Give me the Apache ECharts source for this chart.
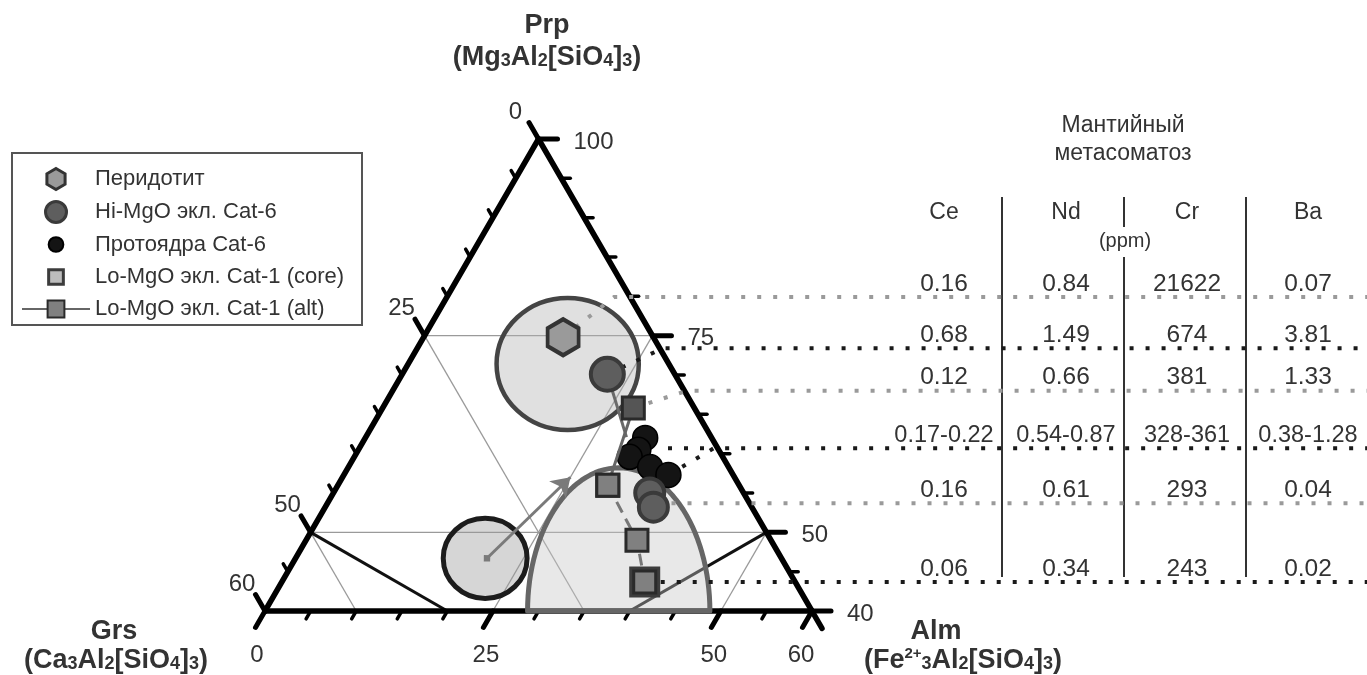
<!DOCTYPE html>
<html><head><meta charset="utf-8">
<script src="https://cdn.jsdelivr.net/npm/echarts@6/dist/echarts.min.js"></script>
<style>html,body{margin:0;padding:0;background:#fff}#c{width:1367px;height:675px}</style>
</head><body><div id="c"></div>
<script>
// ===== DATA: compositions as [Prp, Alm, Grs] (mol.%) =====
const peridotite = [[74.8, 15.3, 9.9]];
const hiMgO = [[70.1, 22.5, 7.4], [55.0, 34.7, 10.3], [53.2, 36.0, 10.8]];
const protocores = [[62.0, 30.7, 7.3], [60.5, 30.7, 8.8], [59.6, 30.2, 10.2], [58.3, 33.1, 8.6], [57.3, 35.6, 7.1]];
const loMgOCore = [[43.7, 39.8, 16.5]];
const loMgOAlt = [[65.8, 27.5, 6.7], [56.0, 29.6, 14.4], [49.0, 36.3, 14.7]];
const trendArrow = [[46.7, 21.0, 32.3], [57.0, 25.0, 18.0]];
const hiTrend = [[70.1, 22.5, 7.4], [62.1, 28.6, 9.3]];
const boundaryLines = [[[50, 0, 50], [40, 20, 40]], [[50, 50, 0], [40, 40, 20]]];
// fields: centre composition, half-axes in composition units (horizontal, Prp)
const fieldCentres = [[71.4, 17.5, 11.1], [46.7, 20.8, 32.5], [40.0, 38.8, 21.2]];
const fieldRadii = [[7.8, 8.4], [4.6, 5.1], [10.0, 18.2]];
const fieldKinds = ['full', 'full', 'upper'];
// grid / ticks
const gridPrp = [75, 50], gridAlm = [25, 50], gridGrs = [25, 50];
const grsTicks = [0, 25, 50, 60], prpTicks = [100, 75, 50, 40], almTicks = [0, 25, 50, 60];
const tickStep = 5;
// table
const tableTitle = ['Мантийный', 'метасоматоз'];
const tableCols = ['Ce', 'Nd', 'Cr', 'Ba'];
const tableUnit = '(ppm)';
const tableRows = [
  ['0.16', '0.84', '21622', '0.07'],
  ['0.68', '1.49', '674', '3.81'],
  ['0.12', '0.66', '381', '1.33'],
  ['0.17-0.22', '0.54-0.87', '328-361', '0.38-1.28'],
  ['0.16', '0.61', '293', '0.04'],
  ['0.06', '0.34', '243', '0.02']
];
const rowPrp = [79.9, 73.4, 68.0, 60.7, 53.7, 43.7];
const rowSource = [peridotite[0], hiMgO[0], loMgOAlt[0], protocores[4], hiMgO[2], loMgOCore[0]];
const names = ['Перидотит', 'Hi-MgO экл. Cat-6', 'Протоядра Cat-6', 'Lo-MgO экл. Cat-1 (core)', 'Lo-MgO экл. Cat-1 (alt)'];

// ===== LAYOUT =====
const FONT = '"Liberation Sans", Arial, sans-serif';
const GL = 265, GT = 139, GW = 547, GH = 472;
const PXU = GW / 60;
const xMax = 20 + (1367 - GL) / PXU;
const pxToX = px => 20 + (px - GL) / PXU;
const tern = t => [t[1] + t[0] / 2, t[0]];
const colPx = [944, 1066, 1187, 1308];
const sepPx = [1002, 1124, 1246];
const kneePx = [614, 663, 687, 714, 647, 660];
const rowColors = ['#9a9a9a', '#1a1a1a', '#9a9a9a', '#1a1a1a', '#9a9a9a', '#1a1a1a'];
const bottomDx = [-8, -7, -7, -11];
const fieldStyles = [
  {fill: 'rgba(178,178,178,0.4)', stroke: '#444', lineWidth: 4.5},
  {fill: 'rgba(152,152,152,0.4)', stroke: '#1c1c1c', lineWidth: 5},
  {fill: 'rgba(198,198,198,0.4)', stroke: '#666', lineWidth: 5}
];
const hexPath = 'path://M0,-1L0.866,-0.5L0.866,0.5L0,1L-0.866,0.5L-0.866,-0.5Z';

function mkLine(ch, p1, p2, style) {
  ch.push({type: 'line', shape: {x1: p1[0], y1: p1[1], x2: p2[0], y2: p2[1]}, style: style});
}

function renderGrid(params, api) {
  const C = t => api.coord(tern(t));
  const ch = [];
  const gs = {stroke: '#9a9a9a', lineWidth: 1.3};
  gridPrp.forEach(p => mkLine(ch, C([p, 0, 100 - p]), C([p, 100 - p, 0]), gs));
  gridGrs.forEach(g => mkLine(ch, C([100 - g, 0, g]), C([40, 60 - g, g]), gs));
  gridAlm.forEach(a => mkLine(ch, C([100 - a, a, 0]), C([40, a, 60 - a]), gs));
  boundaryLines.forEach(l => mkLine(ch, C(l[0]), C(l[1]), {stroke: '#111', lineWidth: 3}));
  return {type: 'group', children: ch};
}

function renderFields(params, api) {
  const i = params.dataIndex;
  const c = api.coord(tern(fieldCentres[i]));
  const rx = api.size([fieldRadii[i][0], 0])[0];
  const ry = api.size([0, fieldRadii[i][1]])[1];
  const st = fieldStyles[i];
  if (fieldKinds[i] === 'full') {
    return {type: 'ellipse', shape: {cx: c[0], cy: c[1], rx: rx, ry: ry}, style: st};
  }
  const pts = [];
  for (let k = 0; k <= 60; k++) {
    const th = Math.PI * k / 60;
    pts.push([c[0] + rx * Math.cos(th), c[1] - ry * Math.sin(th)]);
  }
  return {type: 'polygon', shape: {points: pts}, style: Object.assign({lineJoin: 'round'}, st)};
}

function renderFrame(params, api) {
  const C = t => api.coord(tern(t));
  const ch = [];
  const edge = {stroke: '#000', lineWidth: 5.5, lineCap: 'round'};
  const A = C([100, 0, 0]), L = C([40, 0, 60]), R = C([40, 60, 0]);
  mkLine(ch, A, L, edge); mkLine(ch, L, R, edge); mkLine(ch, A, R, edge);
  mkLine(ch, R, [R[0] + 0.5 * 20, R[1] + 0.866 * 20], edge);
  const tick = (pt, d, major) => {
    const len = major ? 19 : 9;
    mkLine(ch, pt, [pt[0] + d[0] * len, pt[1] + d[1] * len], {stroke: '#000', lineWidth: major ? 5 : 3.5, lineCap: 'round'});
  };
  const txt = (s, x, y, align) => ch.push({type: 'text', x: x, y: y,
    style: {text: s, fill: '#333', font: '24px ' + FONT, align: align, verticalAlign: 'middle'}});
  for (let g = 0; g <= 60; g += tickStep) tick(C([100 - g, 0, g]), [-0.5, -0.866], grsTicks.includes(g));
  for (let p = 40; p <= 100; p += tickStep) tick(C([p, 100 - p, 0]), [1, 0], prpTicks.includes(p));
  for (let a = 0; a <= 60; a += tickStep) tick(C([40, a, 60 - a]), [-0.5, 0.866], almTicks.includes(a));
  grsTicks.forEach(g => { const q = C([100 - g, 0, g]); txt(String(g), q[0] - 23, q[1] - 27, 'center'); });
  prpTicks.forEach(p => { const q = C([p, 100 - p, 0]); txt(String(p), q[0] + 35, q[1] + 3, 'left'); });
  almTicks.forEach((a, i) => { const q = C([40, a, 60 - a]); txt(String(a), q[0] + bottomDx[i], q[1] + 44, 'center'); });
  return {type: 'group', children: ch};
}

// connectors (dotted) from points to table rows
const connectors = rowPrp.map((p, i) => ({
  coords: [tern(rowSource[i]), [pxToX(kneePx[i]), p], [xMax, p]],
  lineStyle: {color: rowColors[i]}
}));
connectors.push({coords: [[pxToX(668), rowPrp[3]], [pxToX(kneePx[3]), rowPrp[3]]], lineStyle: {color: rowColors[3]}});

const tableData = [];
tableRows.forEach((row, r) => row.forEach((v, c) => {
  tableData.push({value: [pxToX(colPx[c]), rowPrp[r], v],
    label: {fontSize: v.length > 6 ? 23.5 : 24.5}});
}));

const altStyle = {color: '#808080', borderColor: '#2a2a2a', borderWidth: 3};

const sub = {fontSize: 18, fontWeight: 'bold', fontFamily: FONT, lineHeight: 24, padding: [6, 0, 0, 0], color: '#333'};
const sup = {fontSize: 15, fontWeight: 'bold', fontFamily: FONT, lineHeight: 20, padding: [0, 0, 14, 0], color: '#333'};
const big = {fontSize: 27, fontWeight: 'bold', fontFamily: FONT, lineHeight: 34, color: '#333'};
function formula(parts) { return parts.map(p => '{' + p[0] + '|' + p[1] + '}').join(''); }
function titleText(x, y, text, rich) {
  return {type: 'text', x: x, y: y, silent: true,
    style: {text: text, rich: rich, font: 'bold 27px ' + FONT, fill: '#333', align: 'center', textAlign: 'center', verticalAlign: 'middle', textVerticalAlign: 'middle'}};
}
const richT = {b: big, s: sub, u: sup};
function plain(x, y, s, size, bold) {
  return {type: 'text', x: x, y: y, silent: true,
    style: {text: s, font: (bold ? 'bold ' : '') + size + 'px ' + FONT, fill: '#333', align: 'center', textAlign: 'center', verticalAlign: 'middle', textVerticalAlign: 'middle'}};
}
const vline = (x, y1, y2) => ({type: 'line', silent: true, shape: {x1: x, y1: y1, x2: x, y2: y2}, style: {stroke: '#333', lineWidth: 2}});

const graphics = [
  {type: 'rect', silent: true, shape: {x: 12, y: 153, width: 350, height: 172}, style: {fill: 'none', stroke: '#555', lineWidth: 2}},
  titleText(547, 26, '{b|Prp}', richT),
  titleText(547, 58, formula([['b','(Mg'],['s','3'],['b','Al'],['s','2'],['b','[SiO'],['s','4'],['b',']'],['s','3'],['b',')']]), richT),
  titleText(114, 632, '{b|Grs}', richT),
  titleText(116, 661, formula([['b','(Ca'],['s','3'],['b','Al'],['s','2'],['b','[SiO'],['s','4'],['b',']'],['s','3'],['b',')']]), richT),
  titleText(936, 632, '{b|Alm}', richT),
  titleText(963, 661, formula([['b','(Fe'],['u','2+'],['s','3'],['b','Al'],['s','2'],['b','[SiO'],['s','4'],['b',']'],['s','3'],['b',')']]), richT),
  plain(1123, 126, tableTitle[0], 23),
  plain(1123, 154, tableTitle[1], 23),
  plain(colPx[0], 213, tableCols[0], 23),
  plain(colPx[1], 213, tableCols[1], 23),
  plain(colPx[2], 213, tableCols[2], 23),
  plain(colPx[3], 213, tableCols[3], 23),
  plain(1125, 241, tableUnit, 20),
  vline(sepPx[0], 197, 577),
  vline(sepPx[1], 197, 227),
  vline(sepPx[1], 257, 577),
  vline(sepPx[2], 197, 577)
];

const option = {
  animation: false,
  backgroundColor: '#fff',
  textStyle: {fontFamily: FONT},
  grid: {left: GL, top: GT, width: 1367 - GL, height: GH},
  xAxis: {type: 'value', min: 20, max: xMax, show: false},
  yAxis: {type: 'value', min: 40, max: 100, show: false},
  legend: {
    orient: 'vertical', left: 21, top: 167, padding: 0, itemWidth: 68, itemHeight: 21, itemGap: 9,
    selectedMode: false,
    textStyle: {fontSize: 22, color: '#333', fontFamily: FONT, lineHeight: 22},
    data: [
      {name: names[0], icon: hexPath, itemStyle: {borderWidth: 3}},
      {name: names[1], icon: 'circle', itemStyle: {borderWidth: 3}},
      {name: names[2], icon: 'path://M0,-7A7,7,0,1,1,0,7A7,7,0,1,1,0,-7Z M-10,-10 M10,10'},
      {name: names[3], icon: 'path://M-7,-7L7,-7L7,7L-7,7Z M-10,-10 M10,10', itemStyle: {borderWidth: 3}},
      {name: names[4]}
    ]
  },
  graphic: graphics,
  series: [
    {type: 'custom', name: 'grid', coordinateSystem: 'cartesian2d', silent: true, data: [[20, 40]], renderItem: renderGrid},
    {type: 'custom', name: 'frame', coordinateSystem: 'cartesian2d', silent: true, data: [[20, 40]], renderItem: renderFrame},
    {type: 'custom', name: 'fields', coordinateSystem: 'cartesian2d', silent: true, data: fieldCentres.map(tern), renderItem: renderFields},
    {type: 'lines', coordinateSystem: 'cartesian2d', polyline: true, silent: true, symbol: 'none',
      lineStyle: {width: 4, type: [4, 12], cap: 'butt', opacity: 1}, data: connectors},
    {type: 'lines', coordinateSystem: 'cartesian2d', silent: true, symbol: ['diamond', 'arrow'], symbolSize: [9, 18],
      lineStyle: {color: '#7a7a7a', width: 3, opacity: 1}, data: [{coords: trendArrow.map(tern)}]},
    {type: 'lines', coordinateSystem: 'cartesian2d', silent: true, symbol: 'none',
      lineStyle: {color: '#6a6a6a', width: 3, opacity: 1}, data: [{coords: hiTrend.map(tern)}]},
    {type: 'line', silent: true, data: [loMgOAlt[1], loMgOAlt[2], loMgOCore[0]].map(tern),
      symbol: 'rect', symbolSize: 22, itemStyle: altStyle,
      lineStyle: {color: '#777', width: 3, type: [12, 7]}},
    {type: 'line', name: names[4], silent: true,
      data: [loMgOAlt[0], loMgOAlt[1]].map((t, i) => ({value: tern(t), itemStyle: i === 0 ? {color: '#555'} : undefined})),
      symbol: 'rect', symbolSize: 22, itemStyle: altStyle, lineStyle: {color: '#666', width: 3}},
    {type: 'scatter', name: names[0], silent: true, data: peridotite.map(tern), symbol: hexPath, symbolSize: [31, 36],
      itemStyle: {color: '#9a9a9a', borderColor: '#333', borderWidth: 4, opacity: 1}},
    {type: 'scatter', name: names[2], silent: true, data: protocores.map(tern), symbol: 'circle', symbolSize: 25,
      itemStyle: {color: '#141414', borderColor: '#000', borderWidth: 1.5, opacity: 1}},
    {type: 'scatter', name: names[1], silent: true, data: hiMgO.map(tern), symbol: 'circle',
      symbolSize: (v, p) => p.dataIndex === 0 ? 33 : 29,
      itemStyle: {color: '#5e5e5e', borderColor: '#3a3a3a', borderWidth: 4, opacity: 1}},
    {type: 'scatter', name: names[3], silent: true, data: loMgOCore.map(tern), symbol: 'rect', symbolSize: 27,
      itemStyle: {color: '#bdbdbd', borderColor: '#3c3c3c', borderWidth: 4, opacity: 1}},
    {type: 'scatter', silent: true, data: loMgOCore.map(tern), symbol: 'circle', symbolSize: [9, 6],
      itemStyle: {color: '#444', opacity: 1}},
    {type: 'scatter', silent: true, data: tableData, symbolSize: 1, itemStyle: {color: 'rgba(0,0,0,0)'},
      label: {show: true, position: 'top', distance: 0, color: '#333', fontFamily: FONT, opacity: 1,
        formatter: p => p.data.value[2]}}
  ]
};
const chart = echarts.init(document.getElementById('c'), null, {width: 1367, height: 675});
chart.setOption(option);
</script></body></html>
